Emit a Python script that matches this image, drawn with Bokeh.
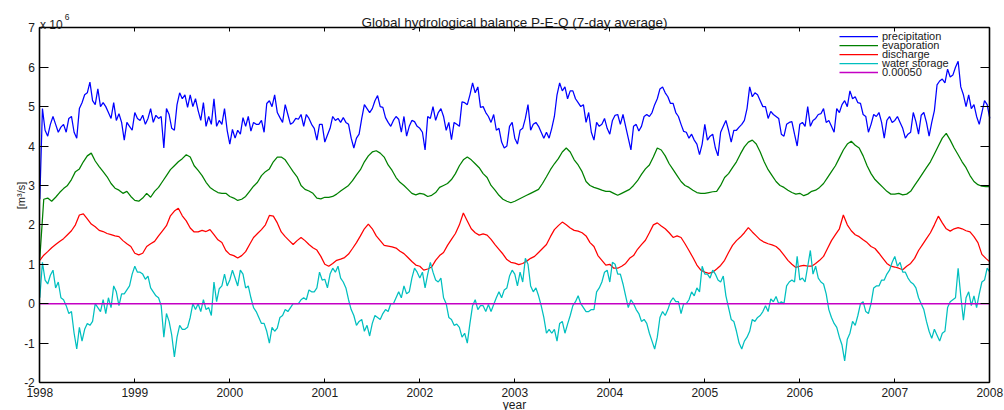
import numpy as np
from bokeh.plotting import figure
from bokeh.models import (LinearAxis, FixedTicker, Label, Legend, LegendItem, Range1d)
from bokeh.embed import file_html
from bokeh.resources import INLINE

# ---------------- data (units: 10^6 m^3/s) ----------------
year_ticks = list(range(1998, 2009))
year_labels = [str(y) for y in year_ticks]
y_ticks = list(range(-2, 8))
y_labels = [str(v) for v in y_ticks]

# 36 samples per year, 1998.0 .. 2008.0
precipitation = [
    2.65, 4.95, 4.4, 4.25, 4.55, 4.75, 4.55, 4.35, 4.48, 4.55, 4.35, 4.7, 4.75, 4.35, 4.2, 4.95, 5.1, 5.3, 5.35, 5.62, 5.15, 5.05, 5.45, 5.0, 5.1, 5.0, 4.85, 4.7, 5.1, 4.65, 4.82, 4.6, 4.15, 4.6, 4.5, 4.4,
    4.85, 4.7, 4.65, 4.78, 4.55, 4.7, 4.95, 4.6, 4.78, 4.7, 4.75, 3.95, 4.95, 4.8, 4.45, 4.4, 5.05, 5.35, 5.2, 5.3, 4.98, 5.3, 5.0, 5.2, 4.9, 4.65, 5.1, 4.5, 4.75, 4.55, 5.2, 4.5, 4.65, 4.55, 4.95, 4.4,
    4.05, 4.42, 4.2, 4.4, 4.3, 4.72, 4.5, 4.75, 4.38, 4.6, 4.55, 4.55, 4.65, 4.35, 5.08, 5.15, 5.0, 5.3, 4.85, 4.72, 4.6, 5.05, 4.8, 4.55, 4.6, 4.7, 4.68, 4.8, 4.5, 4.8, 4.7, 4.55, 4.45, 4.15, 4.55, 4.55,
    4.1, 4.28, 4.45, 4.75, 4.65, 4.7, 4.6, 4.72, 4.6, 4.55, 4.2, 3.95, 4.2, 4.3, 4.7, 5.05, 4.95, 4.85, 4.95, 5.15, 5.28, 5.0, 4.98, 4.72, 4.6, 4.5, 4.65, 4.75, 4.68, 4.35, 4.75, 4.25, 4.5, 4.65, 4.62, 4.5,
    4.45, 4.35, 3.9, 4.75, 4.7, 5.0, 4.65, 4.85, 4.95, 4.75, 4.4, 4.6, 4.16, 4.6, 4.55, 4.5, 5.12, 5.1, 5.05, 5.3, 5.6, 5.35, 5.5, 4.98, 5.0, 4.85, 4.75, 4.6, 4.8, 4.4, 4.45, 4.1, 3.95, 4.0, 4.5, 4.6,
    4.2, 4.05, 4.4, 4.45, 4.7, 5.05, 4.4, 4.55, 4.6, 4.5, 4.35, 4.2, 4.35, 4.2, 4.45, 4.75, 5.3, 5.6, 5.4, 5.5, 5.2, 5.4, 5.4, 5.2, 5.1, 5.0, 5.05, 4.6, 4.85, 4.35, 4.15, 4.6, 4.5, 4.55, 4.7, 4.45,
    4.3, 4.65, 4.78, 4.8, 4.55, 4.8, 4.5, 4.2, 3.9, 4.5, 4.55, 4.38, 4.5, 4.75, 4.8, 4.75, 4.85, 5.05, 5.2, 5.45, 5.5, 5.35, 5.25, 5.08, 5.08, 4.85, 4.75, 4.55, 4.37, 4.35, 4.2, 4.3, 4.15, 4.05, 3.78, 4.05,
    4.55, 4.15, 4.25, 4.3, 3.95, 3.75, 4.35, 4.5, 4.65, 4.4, 4.1, 4.4, 4.4, 4.48, 4.55, 4.65, 4.95, 5.5, 5.25, 5.35, 5.3, 5.15, 5.0, 5.0, 4.7, 4.88, 4.8, 4.75, 4.7, 4.3, 4.25, 4.55, 4.6, 4.62, 4.3, 4.0,
    4.55, 4.6, 4.5, 5.0, 4.5, 4.65, 4.7, 4.8, 4.82, 4.95, 4.6, 4.65, 4.5, 4.35, 4.95, 4.85, 5.05, 5.15, 5.0, 5.4, 5.2, 5.25, 5.1, 5.08, 4.8, 4.75, 4.35, 4.55, 4.8, 4.75, 4.85, 4.6, 4.2, 4.65, 4.75, 4.6,
    4.65, 4.75, 4.6, 4.45, 4.2, 4.3, 4.35, 4.85, 4.62, 4.3, 4.78, 4.85, 4.6, 4.25, 4.6, 4.9, 5.55, 5.65, 5.7, 5.6, 5.95, 5.75, 5.8, 6.0, 6.15, 5.5, 5.3, 5.0, 5.3, 4.95, 5.05, 4.75, 4.55, 4.85, 5.15, 5.05,
    4.7,
]

# 24 samples per year, 1998.0 .. 2008.0
evaporation = [
    1.15, 2.65, 2.68, 2.6, 2.7, 2.82, 2.92, 3.0, 3.15, 3.35, 3.42, 3.6, 3.75, 3.82, 3.62, 3.48, 3.35, 3.22, 3.05, 2.93, 2.88, 2.8, 2.85, 2.72,
    2.62, 2.6, 2.68, 2.8, 2.7, 2.85, 2.95, 3.1, 3.25, 3.4, 3.5, 3.6, 3.68, 3.78, 3.72, 3.5, 3.38, 3.25, 3.08, 2.95, 2.88, 2.82, 2.8, 2.8,
    2.72, 2.68, 2.62, 2.65, 2.72, 2.85, 2.98, 3.08, 3.25, 3.35, 3.42, 3.6, 3.72, 3.72, 3.65, 3.5, 3.35, 3.22, 3.0, 2.9, 2.86, 2.8, 2.68, 2.66,
    2.7, 2.7, 2.72, 2.78, 2.86, 2.93, 3.0, 3.12, 3.27, 3.4, 3.6, 3.75, 3.85, 3.88, 3.82, 3.72, 3.52, 3.38, 3.2, 3.08, 3.0, 2.9, 2.8, 2.76,
    2.8, 2.78, 2.72, 2.75, 2.82, 2.95, 3.0, 3.05, 3.15, 3.3, 3.5, 3.65, 3.72, 3.65, 3.55, 3.45, 3.3, 3.2, 3.0, 2.88, 2.75, 2.65, 2.6, 2.56,
    2.6, 2.65, 2.7, 2.75, 2.8, 2.85, 2.9, 3.05, 3.22, 3.4, 3.55, 3.68, 3.85, 3.95, 3.85, 3.65, 3.52, 3.35, 3.1, 3.0, 2.95, 2.92, 2.88, 2.85,
    2.85, 2.8, 2.75, 2.8, 2.85, 2.9, 3.0, 3.12, 3.28, 3.42, 3.52, 3.72, 3.95, 3.9, 3.75, 3.55, 3.4, 3.25, 3.1, 3.0, 2.95, 2.88, 2.82, 2.8,
    2.8, 2.82, 2.84, 2.85, 3.0, 3.2, 3.3, 3.45, 3.6, 3.8, 3.98, 4.1, 4.15, 4.05, 3.85, 3.6, 3.4, 3.25, 3.1, 3.0, 2.95, 2.88, 2.82, 2.78,
    2.8, 2.74, 2.78, 2.85, 2.88, 2.95, 3.05, 3.2, 3.35, 3.5, 3.7, 3.9, 4.05, 4.12, 4.02, 3.95, 3.75, 3.5, 3.3, 3.15, 3.05, 2.95, 2.85, 2.78,
    2.78, 2.8, 2.76, 2.78, 2.85, 3.0, 3.15, 3.3, 3.45, 3.6, 3.8, 4.0, 4.2, 4.32, 4.15, 3.95, 3.78, 3.6, 3.45, 3.25, 3.1, 3.02, 2.98, 2.97,
    2.97,
]

discharge = [
    1.1, 1.23, 1.32, 1.42, 1.5, 1.58, 1.65, 1.75, 1.85, 2.0, 2.25, 2.28, 2.15, 2.02, 1.95, 1.86, 1.83, 1.78, 1.75, 1.72, 1.7, 1.6, 1.52, 1.45,
    1.28, 1.24, 1.28, 1.45, 1.52, 1.58, 1.72, 1.85, 1.98, 2.23, 2.35, 2.42, 2.23, 2.1, 1.92, 1.82, 1.82, 1.86, 1.83, 1.88, 1.75, 1.62, 1.55, 1.35,
    1.25, 1.22, 1.16, 1.22, 1.32, 1.5, 1.68, 1.78, 1.88, 2.0, 2.24, 2.22, 2.05, 1.82, 1.7, 1.6, 1.5, 1.6, 1.68, 1.6, 1.5, 1.42, 1.36, 1.2,
    1.0, 0.95, 1.02, 1.1, 1.13, 1.17, 1.26, 1.4, 1.55, 1.72, 1.9, 2.02, 1.9, 1.72, 1.6, 1.48, 1.46, 1.44, 1.41, 1.33, 1.27, 1.17, 1.07, 0.98,
    0.95, 0.85, 0.88, 0.93, 1.1, 1.22, 1.3, 1.48, 1.63, 1.78, 2.0, 2.3, 2.1, 1.9, 1.8, 1.74, 1.77, 1.74, 1.63, 1.5, 1.38, 1.26, 1.12, 1.05,
    1.03, 0.99, 1.02, 1.08, 1.15, 1.2, 1.3, 1.4, 1.5, 1.7, 1.88, 1.98, 2.07, 2.0, 1.92, 1.86, 1.84, 1.8, 1.72, 1.55, 1.45, 1.22, 1.1, 0.98,
    1.0, 0.9, 0.9, 0.95, 1.02, 1.15, 1.22, 1.38, 1.5, 1.61, 1.8, 2.0, 2.05, 1.97, 1.9, 1.8, 1.68, 1.72, 1.68, 1.52, 1.35, 1.17, 0.98, 0.85,
    0.8, 0.77, 0.8, 0.88, 0.97, 1.1, 1.3, 1.48, 1.6, 1.69, 1.8, 1.93, 1.82, 1.72, 1.62, 1.56, 1.52, 1.49, 1.45, 1.36, 1.23, 1.1, 1.0, 0.92,
    0.95, 0.97, 0.95, 0.95, 1.02, 1.1, 1.2, 1.4, 1.6, 1.75, 1.9, 2.25, 2.0, 1.85, 1.75, 1.7, 1.62, 1.55, 1.45, 1.4, 1.28, 1.15, 1.02, 0.95,
    0.93, 0.9, 0.86, 0.95, 1.02, 1.15, 1.35, 1.5, 1.65, 1.8, 2.0, 2.22, 2.05, 1.9, 1.84, 1.9, 1.93, 1.9, 1.85, 1.82, 1.7, 1.55, 1.25, 1.15,
    1.06,
]

water_storage = [
    0.15, 1.05, 0.6, 0.5, 0.72, 0.85, 0.4, 0.55, 0.15, 0.1, -0.05, -0.25, -0.2, -0.75, -1.15, -0.6, -0.95, -0.65, -0.5, -0.55, -0.45, 0.0, -0.1, -0.2, 0.1, -0.25, 0.15, -0.1, 0.45, 0.3, -0.05, 0.25, 0.25, 0.35, 0.45, 0.75,
    0.95, 0.8, 0.8, 0.75, 0.62, 0.7, 0.4, 0.3, 0.2, 0.15, -0.05, -0.85, -0.25, -0.45, -0.8, -1.35, -0.85, -0.55, -0.65, -0.65, -0.6, -0.35, 0.0, -0.15, 0.0, -0.2, 0.1, -0.15, -0.1, -0.3, 0.55, 0.05, 0.38, 0.45, 0.75, 0.45,
    0.6, 0.85, 0.65, 0.45, 0.85, 0.75, 0.4, 0.45, 0.15, -0.1, -0.2, -0.35, -0.5, -0.5, -0.7, -1.0, -0.6, -0.7, -0.62, -0.35, -0.3, -0.15, -0.2, -0.1, 0.0, 0.0, 0.0, 0.1, 0.15, 0.1, 0.35, 0.3, 0.3, 0.4, 0.8, 0.6,
    0.62, 0.4, 0.75, 0.9, 0.8, 0.95, 0.65, 0.55, 0.4, 0.1, -0.15, -0.3, -0.55, -0.45, -0.4, -0.7, -0.55, -0.82, -0.5, -0.3, -0.35, -0.4, -0.25, -0.15, -0.2, 0.0, 0.0, 0.15, 0.3, 0.15, 0.45, 0.25, 0.3, 0.65, 0.9, 0.8,
    0.65, 0.8, 0.4, 0.75, 1.05, 0.8, 0.6, 0.55, 0.65, 0.15, 0.0, -0.35, -0.4, -0.55, -0.52, -0.6, -0.85, -0.75, -1.0, -0.5, -0.05, 0.1, -0.15, -0.05, -0.05, -0.2, -0.02, -0.2, -0.02, 0.15, 0.3, 0.15, 0.35, 0.4, 0.7, 0.85,
    0.75, 0.45, 0.8, 0.55, 1.15, 1.0, 0.45, 0.3, 0.4, 0.2, -0.05, -0.35, -0.75, -0.65, -0.75, -0.65, -0.95, -0.5, -0.45, -0.75, -0.52, -0.3, -0.05, 0.05, 0.2, 0.0, -0.1, -0.2, -0.2, -0.15, -0.15, 0.3, 0.4, 0.55, 0.8, 0.85,
    0.55, 1.05, 1.0, 0.75, 0.75, 0.5, 0.2, -0.1, 0.1, 0.0, -0.15, -0.25, -0.45, -0.4, -0.5, -0.75, -0.95, -1.15, -0.85, -0.35, -0.2, -0.3, -0.15, 0.05, 0.15, 0.05, 0.05, -0.25, 0.0, 0.0, 0.1, 0.3, 0.2, 0.4, 0.3, 0.95,
    0.75, 0.75, 0.65, 0.85, 0.75, 0.6, 0.55, 0.7, 0.2, -0.1, -0.4, -0.45, -0.7, -1.0, -1.15, -0.95, -0.85, -0.7, -0.4, -0.45, -0.35, -0.3, -0.2, -0.05, -0.2, 0.12, 0.05, 0.18, 0.0, 0.05, 0.0, 0.45, 0.55, 0.6, 0.55, 1.2,
    0.6, 0.65, 0.55, 0.95, 1.35, 0.75, 0.95, 0.65, 0.55, 0.5, 0.25, -0.15, -0.35, -0.5, -0.6, -0.85, -1.05, -1.45, -0.9, -0.75, -0.45, -0.55, -0.3, 0.0, 0.05, -0.2, -0.25, 0.0, 0.4, 0.45, 0.45, 0.6, 0.6, 0.75, 0.85, 1.05,
    1.2, 0.95, 1.05, 0.8, 0.8, 0.65, 0.55, 0.5, 0.4, 0.15, 0.0, -0.15, -0.45, -0.7, -0.88, -0.65, -0.8, -0.95, -0.75, -0.7, -0.1, 0.05, 0.1, 0.15, 0.9, 0.2, -0.42, 0.15, 0.3, -0.05, 0.2, -0.1, 0.25, 0.55, 0.6, 0.9,
    0.8,
]

balance_years = [1998, 2008]
balance_level = [0.0005, 0.0005]

legend_labels = ["precipitation", "evaporation", "discharge", "water storage", "0.00050"]
colors = ["#0000ff", "#008000", "#ff0000", "#00bfbf", "#c400c4"]

FONT = "Liberation Sans"
TXT = "#1a1a1a"
W, H = 1004, 410

def timeline(series):
    return np.linspace(1998, 2008, len(series))

# ---------------- figure ----------------
# The frame spans the whole canvas; the axes box (1998-2008, -2..7) sits at
# left=39.3, right=989.3, top=27.3, bottom=382 px, drawn with fixed-location axes.
px_per_year = 950.0 / 10
px_per_unit = 354.7 / 9
x_rng = Range1d(1998 - 39.3 / px_per_year, 2008 + (W - 989.3) / px_per_year)
y_rng = Range1d(-2 - (H - 382.0) / px_per_unit, 7 + 27.3 / px_per_unit)

p = figure(width=W, height=H, output_backend="svg", toolbar_location=None,
           x_range=x_rng, y_range=y_rng,
           x_axis_location=None, y_axis_location=None,
           min_border=0, min_border_left=0, min_border_right=0,
           min_border_top=0, min_border_bottom=0)
p.xgrid.visible = False
p.ygrid.visible = False
p.outline_line_color = None
p.background_fill_color = "white"
p.border_fill_color = "white"

renderers = []
for series, col in zip([precipitation, evaporation, discharge, water_storage], colors[:4]):
    renderers.append(p.line(timeline(series), series, line_color=col, line_width=1.25))
renderers.append(p.line(balance_years, balance_level, line_color=colors[4], line_width=1.5))

xt = FixedTicker(ticks=year_ticks)
yt = FixedTicker(ticks=y_ticks)

def make_axis(ticker, labels, tick_len, show_labels, loc, bounds):
    ax = LinearAxis(ticker=ticker, fixed_location=loc, bounds=bounds,
                    major_tick_in=tick_len, major_tick_out=0,
                    minor_tick_line_color=None,
                    axis_line_width=1.6, axis_line_color="black",
                    major_tick_line_color="black", major_tick_line_width=1,
                    major_label_text_font=FONT,
                    major_label_text_color=TXT)
    if show_labels:
        ax.major_label_overrides = {t: s for t, s in zip(ticker.ticks, labels)}
        ax.major_label_text_font_size = "12px"
        ax.major_label_standoff = 5
    else:
        ax.major_label_text_font_size = "0px"
        ax.major_label_text_color = None
        ax.major_label_standoff = 0
    return ax

p.add_layout(make_axis(xt, year_labels, 4, True, -2, (1998, 2008)), "below")
p.add_layout(make_axis(xt, year_labels, 4, False, 7, (1998, 2008)), "above")
p.add_layout(make_axis(yt, y_labels, 9, True, 1998, (-2, 7)), "left")
p.add_layout(make_axis(yt, y_labels, 9, False, 2008, (-2, 7)), "right")

# texts (screen units: from the canvas' bottom-left)
def txt(x, y, s, size, align="left", baseline="alphabetic", angle=0.0):
    p.add_layout(Label(x=x, y=H - y, x_units="screen", y_units="screen", text=s,
                       angle=angle, text_font=FONT, text_font_size=size, text_color=TXT,
                       text_align=align, text_baseline=baseline))

txt(514, 22, "Global hydrological balance P-E-Q (7-day average)", "13.5px", align="center")
txt(39.5, 24, "x 10", "12px")
txt(64.3, 16.7, "6", "8.5px")
txt(514, 404, "year", "12px", align="center", baseline="middle")
txt(20, 195, "[m³/s]", "11px", align="center", baseline="middle", angle=np.pi / 2)

# legend: one row per entry, 9 px apart (location = bottom-left corner of each row)
centers = [36, 45, 54, 63, 72]
for lab, r, cy in zip(legend_labels, renderers, centers):
    lg = Legend(items=[LegendItem(label=lab, renderers=[r])],
                location=(839, H - (cy + 8)),
                glyph_width=39, glyph_height=16, label_height=16, label_width=10,
                label_standoff=4, padding=0, margin=0, spacing=0,
                border_line_color=None, background_fill_alpha=0,
                label_text_font=FONT, label_text_font_size="11px",
                label_text_color=TXT)
    p.add_layout(lg, "center")

open("out.html", "w").write(file_html(p, INLINE))
